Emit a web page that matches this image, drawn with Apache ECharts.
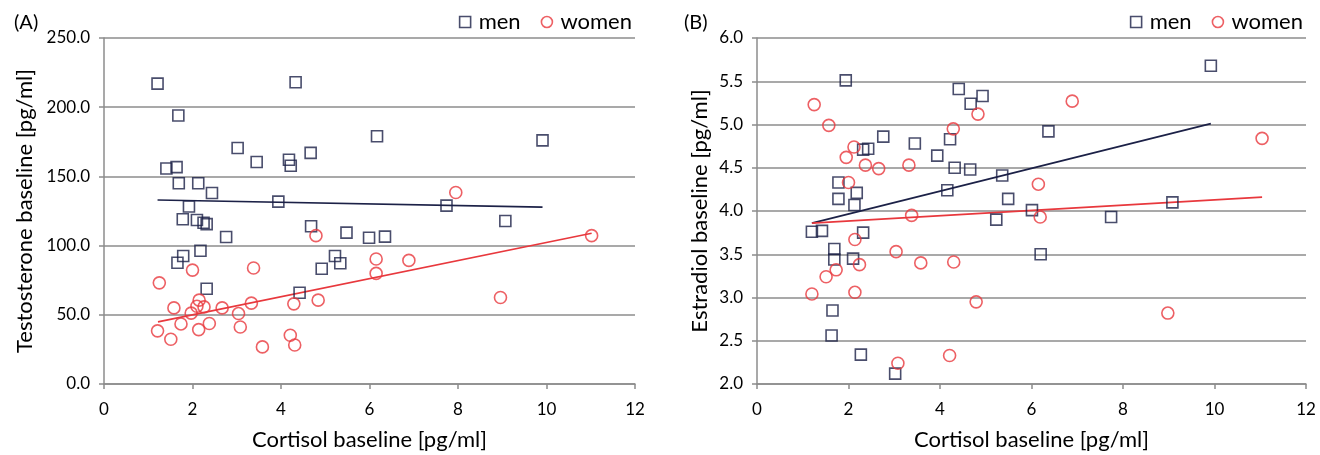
<!DOCTYPE html>
<html>
<head>
<meta charset="utf-8">
<script src="https://cdn.jsdelivr.net/npm/echarts@6/dist/echarts.min.js"></script>
<style>
  html, body { margin: 0; padding: 0; background: #fff; }
  #chart { width: 1320px; height: 455px; }
</style>
</head>
<body>
<div id="chart"></div>
<script>
// cortisol (x) vs testosterone (y), panel A
const menA = [
  [1.21, 217], [4.33, 218], [1.68, 194], [6.17, 179], [3.02, 170.5], [3.45, 160.4],
  [4.18, 162], [4.22, 157.7], [4.67, 167], [1.41, 155.7], [1.64, 156.7], [1.69, 145],
  [2.13, 145], [2.44, 138], [3.94, 131.8], [1.92, 128.2], [9.91, 176], [7.74, 128.9],
  [1.78, 119], [2.10, 118.5], [2.25, 116.5], [2.32, 115.5], [2.76, 106.2], [4.68, 114],
  [5.48, 109.4], [5.99, 105.7], [1.79, 92.5], [1.66, 87.6], [2.18, 96.3], [5.22, 92.5],
  [5.34, 87.2], [4.92, 83.3], [2.32, 68.8], [4.42, 65.9], [6.35, 106.5], [9.07, 117.8]
];
const womenA = [
  [7.95, 138.4], [4.79, 107.2], [2.0, 82.3], [3.38, 83.8], [1.25, 73.1], [6.15, 90.3],
  [6.15, 79.9], [2.15, 60.6], [2.10, 56.2], [2.26, 55.7], [1.58, 55], [2.67, 55],
  [3.33, 58.4], [4.29, 57.9], [4.84, 60.6], [1.97, 51.2], [3.04, 50.9], [1.21, 38.4],
  [1.74, 43.4], [2.14, 39.3], [2.38, 43.7], [3.08, 41.2], [1.51, 32.3], [3.58, 26.8],
  [4.21, 35.2], [4.31, 28.2], [6.89, 89.3], [8.96, 62.5], [11.02, 107.2]
];
const menTrendA = [[1.21, 133], [9.91, 127.8]];
const womenTrendA = [[1.22, 44.9], [11.02, 108.9]];

// cortisol (x) vs estradiol (y), panel B
const menB = [
  [1.94, 5.51], [4.41, 5.41], [4.93, 5.33], [4.67, 5.24], [2.76, 4.86], [3.45, 4.78],
  [4.22, 4.83], [2.32, 4.71], [2.43, 4.72], [3.94, 4.64], [4.32, 4.50], [4.66, 4.48],
  [5.36, 4.41], [1.78, 4.33], [4.16, 4.24], [2.18, 4.21], [1.78, 4.14], [5.49, 4.14],
  [2.13, 4.07], [6.01, 4.01], [9.92, 5.68], [6.37, 4.92], [9.08, 4.10], [5.23, 3.90],
  [1.20, 3.76], [1.42, 3.77], [2.32, 3.75], [1.69, 3.56], [1.69, 3.44], [2.10, 3.45],
  [1.65, 2.85], [1.63, 2.56], [2.27, 2.34], [3.02, 2.12], [7.74, 3.93], [6.20, 3.50]
];
const womenB = [
  [1.25, 5.23], [1.57, 4.99], [4.83, 5.12], [4.29, 4.95], [2.12, 4.74], [1.95, 4.62],
  [2.37, 4.53], [2.66, 4.49], [3.32, 4.53], [2.0, 4.33], [6.15, 4.31], [6.89, 5.27],
  [11.04, 4.84], [3.38, 3.95], [2.14, 3.67], [3.04, 3.53], [2.24, 3.38], [3.58, 3.40],
  [4.30, 3.41], [1.73, 3.32], [1.51, 3.24], [1.20, 3.04], [2.14, 3.06], [4.79, 2.95],
  [4.21, 2.33], [3.08, 2.24], [6.19, 3.93], [8.98, 2.82]
];
const menTrendB = [[1.20, 3.86], [9.92, 5.01]];
const womenTrendB = [[1.20, 3.86], [11.04, 4.16]];

const xTitle = 'Cortisol baseline [pg/ml]';
const yTitleA = 'Testosterone baseline [pg/ml]';
const yTitleB = 'Estradiol baseline [pg/ml]';

const NAVY = '#1c2147';
const RED = '#e8383d';
const GRID = '#8c8c8c';
const FONT = 'Lato';

function xAxisCfg(gridIndex) {
  return {
    gridIndex, type: 'value', min: 0, max: 12, interval: 2,
    name: xTitle, nameLocation: 'middle', nameGap: 45,
    nameTextStyle: { fontFamily: FONT, fontSize: 22, color: '#000' },
    axisLine: { show: true, lineStyle: { color: GRID, width: 1.5 } },
    axisTick: { show: true, length: 5, lineStyle: { color: GRID, width: 1.5 } },
    axisLabel: { fontFamily: FONT, fontSize: 17, color: '#000', margin: 17 },
    splitLine: { show: false }
  };
}

function yAxisCfg(gridIndex, min, max, interval, name, gap) {
  return {
    gridIndex, type: 'value', min, max, interval,
    name, nameLocation: 'middle', nameGap: gap, nameRotate: 90,
    nameTextStyle: { fontFamily: FONT, fontSize: 22, color: '#000' },
    axisLine: { show: true, lineStyle: { color: GRID, width: 1.5 } },
    axisTick: { show: true, length: 5, lineStyle: { color: GRID, width: 1.5 } },
    axisLabel: { fontFamily: FONT, fontSize: 17, color: '#000', margin: 14,
      formatter: v => v.toFixed(1) },
    splitLine: { show: true, lineStyle: { color: GRID, width: 1.5 } }
  };
}

function scatter(name, data, idx, symbol, color, size) {
  return {
    name, type: 'scatter', xAxisIndex: idx, yAxisIndex: idx, data,
    symbol, symbolSize: size,
    itemStyle: { color: 'rgba(0,0,0,0)', borderColor: color, borderWidth: 1.6 },
    z: 3
  };
}

function trend(data, idx, color) {
  return {
    type: 'line', xAxisIndex: idx, yAxisIndex: idx, data,
    symbol: 'none', silent: true,
    lineStyle: { color, width: 1.6 }, z: 2
  };
}

function legendCfg(right) {
  return {
    top: 6, right, itemGap: 20, itemWidth: 11, itemHeight: 11,
    textStyle: { fontFamily: FONT, fontSize: 22, color: '#000', padding: [0, 0, 0, 3] },
    data: [
      { name: 'men', icon: 'rect', itemStyle: { color: 'rgba(0,0,0,0)', borderColor: NAVY, borderWidth: 1.6 } },
      { name: 'women', icon: 'circle', itemStyle: { color: 'rgba(0,0,0,0)', borderColor: RED, borderWidth: 1.6 } }
    ]
  };
}

const chart = echarts.init(document.getElementById('chart'));
chart.setOption({
  animation: false,
  backgroundColor: '#fff',
  title: [
    { text: '(A)', left: 9, top: 8, textStyle: { fontFamily: FONT, fontSize: 20, fontWeight: 'normal', color: '#000' } },
    { text: '(B)', left: 679, top: 8, textStyle: { fontFamily: FONT, fontSize: 20, fontWeight: 'normal', color: '#000' } }
  ],
  legend: [legendCfg(683), legendCfg(12)],
  grid: [
    { left: 104, right: 685, top: 38, bottom: 71, outerBoundsMode: 'none' },
    { left: 757, right: 14, top: 38, bottom: 71, outerBoundsMode: 'none' }
  ],
  xAxis: [xAxisCfg(0), xAxisCfg(1)],
  yAxis: [
    yAxisCfg(0, 0, 250, 50, yTitleA, 68),
    yAxisCfg(1, 2, 6, 0.5, yTitleB, 46)
  ],
  series: [
    trend(menTrendA, 0, NAVY),
    trend(womenTrendA, 0, RED),
    scatter('men', menA, 0, 'rect', NAVY, 11),
    scatter('women', womenA, 0, 'circle', RED, 12),
    trend(menTrendB, 1, NAVY),
    trend(womenTrendB, 1, RED),
    scatter('men', menB, 1, 'rect', NAVY, 11),
    scatter('women', womenB, 1, 'circle', RED, 12)
  ]
});
</script>
</body>
</html>
